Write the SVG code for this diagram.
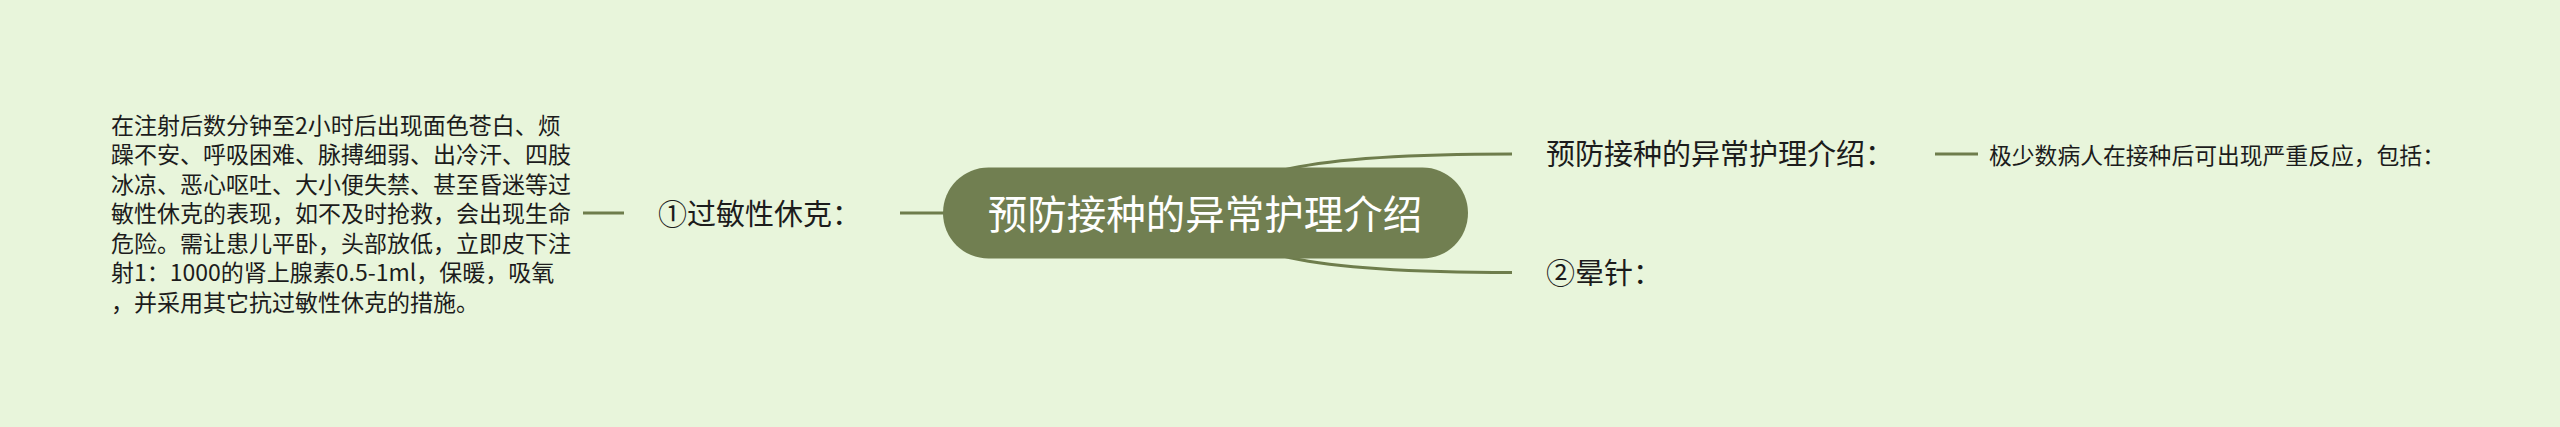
<svg xmlns="http://www.w3.org/2000/svg" width="2560" height="427" viewBox="0 0 2560 427">
<style>
.t{font-family:"Noto Sans CJK SC","Noto Sans",sans-serif;fill:#1c1c1c}
.c{fill:none;stroke:#6e7d4c;stroke-width:3;stroke-linecap:butt}
</style>
<rect x="0" y="0" width="2560" height="427" fill="#e8f5db"/>
<g id="connectors">
<path class="c" d="M583 213 H624"/>
<path class="c" d="M900 213 H944"/>
<path class="c" d="M1205 213 C1240 173 1295 154 1512 154" stroke-width="3.5"/>
<path class="c" d="M1205 213 C1240 253 1295 272.5 1512 272.5" stroke-width="3.5"/>
<path class="c" d="M1935 154 H1978"/>
</g>
<g id="root">
<rect x="943" y="167.5" width="525" height="91" rx="45.5" ry="45.5" fill="#717f51"/>
<text class="t" x="1205" y="229" font-size="39.5" text-anchor="middle" style="fill:#ffffff">预防接种的异常护理介绍</text>
</g>
<g id="node-guomin">
<text class="t" x="658" y="225" font-size="29">①过敏性休克：</text>
</g>
<g id="node-guomin-detail">
<text class="t" font-size="23">
<tspan x="111" y="133.5">在注射后数分钟至2小时后出现面色苍白、烦</tspan>
<tspan x="111" y="163">躁不安、呼吸困难、脉搏细弱、出冷汗、四肢</tspan>
<tspan x="111" y="192.5">冰凉、恶心呕吐、大小便失禁、甚至昏迷等过</tspan>
<tspan x="111" y="222">敏性休克的表现，如不及时抢救，会出现生命</tspan>
<tspan x="111" y="251.5">危险。需让患儿平卧，头部放低，立即皮下注</tspan>
<tspan x="111" y="281">射1：1000的肾上腺素0.5-1ml，保暖，吸氧</tspan>
<tspan x="111" y="310.5">，并采用其它抗过敏性休克的措施。</tspan>
</text>
</g>
<g id="node-yufang">
<text class="t" x="1546" y="165" font-size="29">预防接种的异常护理介绍：</text>
</g>
<g id="node-yufang-detail">
<text class="t" x="1989" y="164" font-size="22.8">极少数病人在接种后可出现严重反应，包括：</text>
</g>
<g id="node-yunzhen">
<text class="t" x="1546" y="284" font-size="29">②晕针：</text>
</g>
</svg>
